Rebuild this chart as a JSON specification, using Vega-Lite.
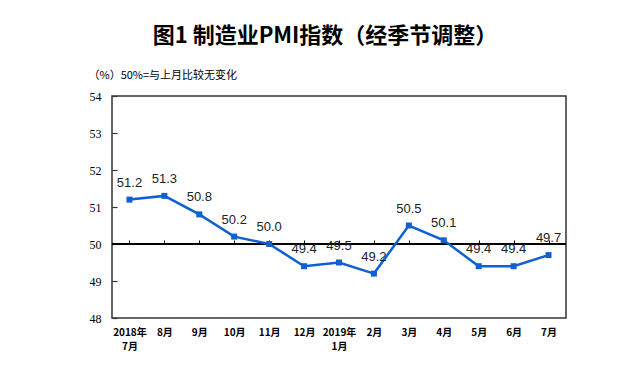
{
  "$schema": "https://vega.github.io/schema/vega-lite/v6.json",
  "width": 454,
  "height": 222,
  "autosize": {"type": "none"},
  "padding": {"left": 112, "top": 96, "right": 77, "bottom": 59},
  "background": "white",
  "config": {
    "view": {"stroke": "#333333", "strokeWidth": 1.5},
    "axis": {"grid": false}
  },
  "title": {
    "text": "图1  制造业PMI指数（经季节调整）",
    "font": "Noto Sans CJK SC",
    "fontSize": 22,
    "fontWeight": "bold",
    "color": "#000000",
    "anchor": "middle",
    "frame": "group",
    "dx": -14,
    "offset": 21
  },
  "data": {
    "values": [
      {"month": "2018年7月", "pmi": 51.2},
      {"month": "8月", "pmi": 51.3},
      {"month": "9月", "pmi": 50.8},
      {"month": "10月", "pmi": 50.2},
      {"month": "11月", "pmi": 50.0},
      {"month": "12月", "pmi": 49.4},
      {"month": "2019年1月", "pmi": 49.5},
      {"month": "2月", "pmi": 49.2},
      {"month": "3月", "pmi": 50.5},
      {"month": "4月", "pmi": 50.1},
      {"month": "5月", "pmi": 49.4},
      {"month": "6月", "pmi": 49.4},
      {"month": "7月", "pmi": 49.7}
    ]
  },
  "resolve": {"axis": {"x": "independent"}},
  "layer": [
    {
      "mark": {"type": "rule", "color": "#000000", "strokeWidth": 1},
      "encoding": {"y": {"datum": 50, "type": "quantitative",
          "scale": {"domain": [48, 54], "nice": false, "zero": false},
          "axis": {
            "values": [48, 49, 50, 51, 52, 53, 54],
            "labelOverlap": false,
            "labelFlush": false,
            "domain": false,
            "tickSize": -5,
            "tickColor": "#333333",
            "tickWidth": 1.2,
            "labelFont": "Liberation Serif",
            "labelFontSize": 12,
            "labelColor": "#000000",
            "labelPadding": 16,
            "title": "（%）50%=与上月比较无变化",
            "titleAngle": 0,
            "titleAlign": "left",
            "titleBaseline": "middle",
            "titleX": -24,
            "titleY": -21,
            "titleFont": "Noto Sans CJK SC",
            "titleFontSize": 11,
            "titleFontWeight": "normal",
            "titleColor": "#000000"
          }}}
    },
    {
      "mark": {"type": "line", "color": "#1060d0", "strokeWidth": 2.5, "point": {"shape": "square", "size": 36, "color": "#1060d0", "filled": true}},
      "encoding": {
        "x": {
          "field": "month", "type": "ordinal", "sort": null,
          "scale": {"paddingInner": 0, "paddingOuter": 0},
          "axis": {
            "title": null,
            "domain": false,
            "ticks": false,
            "labelAngle": 0,
            "labelFont": "Noto Sans CJK SC",
            "labelFontSize": 10,
            "labelFontWeight": "bold",
            "labelColor": "#000000",
            "labelPadding": 9,
            "labelLineHeight": 14,
            "labelExpr": "indexof(datum.value, '年') >= 0 ? [substring(datum.value, 0, 5), substring(datum.value, 5)] : datum.value"
          }
        },
        "y": {
          "field": "pmi", "type": "quantitative",
          "scale": {"domain": [48, 54], "nice": false, "zero": false},
          "axis": {
            "values": [48, 49, 50, 51, 52, 53, 54],
            "labelOverlap": false,
            "labelFlush": false,
            "domain": false,
            "tickSize": -5,
            "tickColor": "#333333",
            "tickWidth": 1.2,
            "labelFont": "Liberation Serif",
            "labelFontSize": 12,
            "labelColor": "#000000",
            "labelPadding": 16,
            "title": "（%）50%=与上月比较无变化",
            "titleAngle": 0,
            "titleAlign": "left",
            "titleBaseline": "middle",
            "titleX": -24,
            "titleY": -21,
            "titleFont": "Noto Sans CJK SC",
            "titleFontSize": 11,
            "titleFontWeight": "normal",
            "titleColor": "#000000"
          }
        }
      }
    },
    {
      "mark": {"type": "text", "font": "Liberation Sans", "fontSize": 13, "color": "#222222", "dy": -17, "baseline": "middle"},
      "encoding": {
        "x": {"field": "month", "type": "ordinal", "sort": null,
          "axis": {"orient": "bottom", "offset": -74, "labels": false, "domain": false, "title": null, "ticks": true, "tickSize": -4, "tickWidth": 1, "tickColor": "#000000", "bandPosition": 0}},
        "y": {"field": "pmi", "type": "quantitative",
          "scale": {"domain": [48, 54], "nice": false, "zero": false},
          "axis": {
            "values": [48, 49, 50, 51, 52, 53, 54],
            "labelOverlap": false,
            "labelFlush": false,
            "domain": false,
            "tickSize": -5,
            "tickColor": "#333333",
            "tickWidth": 1.2,
            "labelFont": "Liberation Serif",
            "labelFontSize": 12,
            "labelColor": "#000000",
            "labelPadding": 16,
            "title": "（%）50%=与上月比较无变化",
            "titleAngle": 0,
            "titleAlign": "left",
            "titleBaseline": "middle",
            "titleX": -24,
            "titleY": -21,
            "titleFont": "Noto Sans CJK SC",
            "titleFontSize": 11,
            "titleFontWeight": "normal",
            "titleColor": "#000000"
          }},
        "text": {"field": "pmi", "type": "quantitative", "format": ".1f"}
      }
    }
  ]
}
